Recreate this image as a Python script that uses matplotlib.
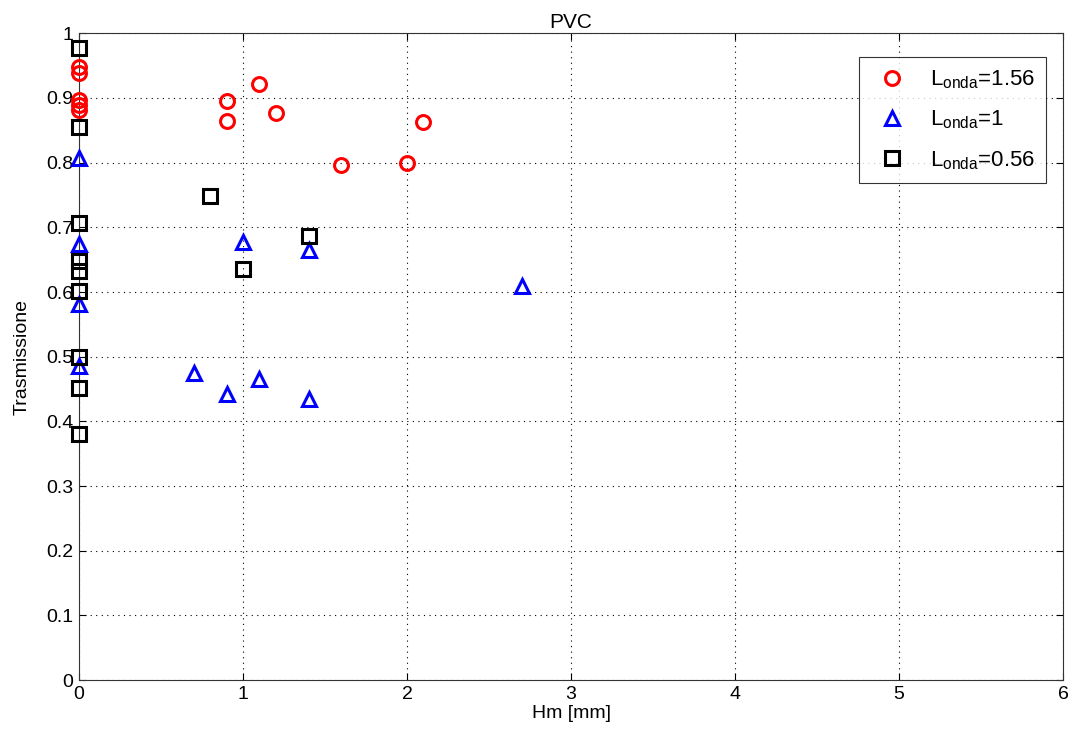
import matplotlib
matplotlib.use("Agg")
import matplotlib.pyplot as plt

plt.rcParams['font.family'] = ['Liberation Sans', 'DejaVu Sans']
plt.rcParams['mathtext.fontset'] = 'custom'
plt.rcParams['mathtext.rm'] = 'Liberation Sans'

# Wave length 1.56
hm_156 = [0, 0, 0, 0, 0, 0.9, 0.9, 1.1, 1.2, 1.6, 2.0, 2.1]
tr_156 = [0.948, 0.938, 0.897, 0.889, 0.882, 0.895, 0.864, 0.922, 0.877, 0.797, 0.799, 0.863]

# Wave length 1
hm_1 = [0, 0, 0, 0, 0.7, 0.9, 1.0, 1.1, 1.4, 1.4, 2.7]
tr_1 = [0.807, 0.674, 0.582, 0.486, 0.475, 0.442, 0.677, 0.465, 0.665, 0.435, 0.609]

# Wave length 0.56
hm_056 = [0, 0, 0, 0, 0, 0, 0, 0, 0, 0.8, 1.0, 1.4]
tr_056 = [0.977, 0.855, 0.706, 0.648, 0.633, 0.601, 0.500, 0.451, 0.381, 0.749, 0.635, 0.686]

xticks = [0, 1, 2, 3, 4, 5, 6]
yticks = [0, 0.1, 0.2, 0.3, 0.4, 0.5, 0.6, 0.7, 0.8, 0.9, 1.0]
ytick_labels = ['0', '0.1', '0.2', '0.3', '0.4', '0.5', '0.6', '0.7', '0.8', '0.9', '1']

fig = plt.figure(figsize=(10.72, 7.40), dpi=100)
ax = fig.add_axes([0.0737, 0.081, 0.9179, 0.874])

mk = dict(linestyle='none', markerfacecolor='none', markersize=10,
          markeredgewidth=2.2, clip_on=False, zorder=3)
ax.plot(hm_156, tr_156, marker='o', color='#ff0000', label=r'L$_{\mathrm{onda}}$=1.56', **mk)
ax.plot(hm_1, tr_1, marker='^', color='#0000ff', label=r'L$_{\mathrm{onda}}$=1', **mk)
ax.plot(hm_056, tr_056, marker='s', color='#000000', label=r'L$_{\mathrm{onda}}$=0.56', **mk)

ax.set_xlim(0, 6)
ax.set_ylim(0, 1)
ax.set_xticks(xticks)
ax.set_xticklabels([str(t) for t in xticks])
ax.set_yticks(yticks)
ax.set_yticklabels(ytick_labels)
ax.tick_params(direction='in', labelsize=14, length=5, top=True, right=True, pad=4)
ax.grid(True, linestyle=(0, (1, 4)), color='#000000', linewidth=0.8)
for s in ax.spines.values():
    s.set_linewidth(0.8)
    s.set_color('#333333')

ax.set_xlabel('Hm [mm]', fontsize=14, labelpad=2)
ax.set_ylabel('Trasmissione', fontsize=14, labelpad=11)
ax.set_title('PVC', fontsize=15, pad=4)

leg = ax.legend(loc='upper right', fontsize=16, frameon=True, fancybox=False,
                edgecolor='black', borderpad=0.5, handletextpad=0.7,
                bbox_to_anchor=(0.983, 0.963), labelspacing=0.8,
                borderaxespad=0)
leg.get_frame().set_linewidth(0.8)

fig.savefig('out.png', dpi=100)
